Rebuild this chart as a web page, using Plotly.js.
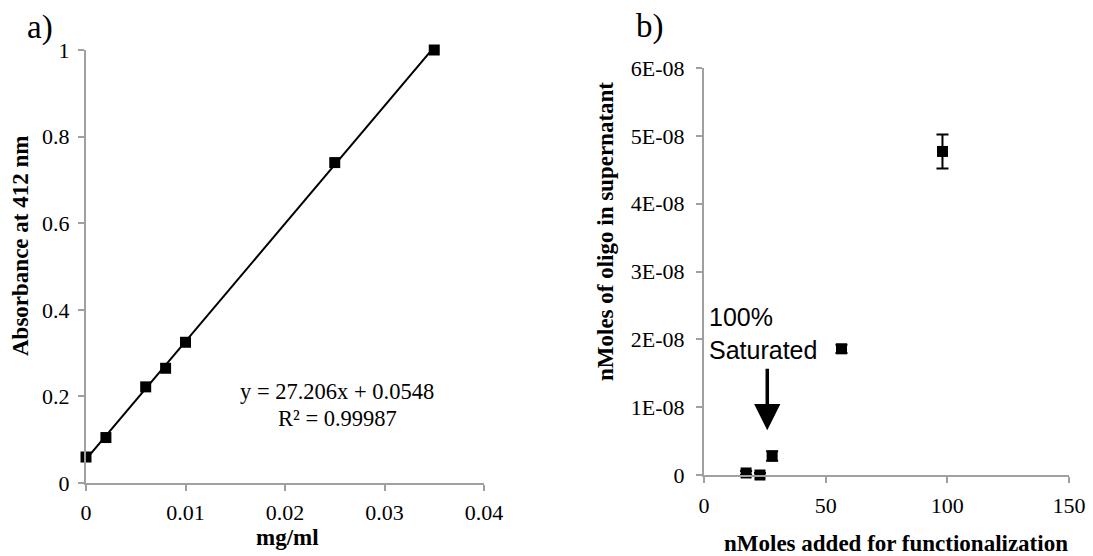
<!DOCTYPE html>
<html>
<head>
<meta charset="utf-8">
<script src="https://cdn.plot.ly/plotly-3.0.1.min.js"></script>
<style>html,body{margin:0;padding:0;background:#fff;}#chart{width:1093px;height:556px;}</style>
</head>
<body>
<div id="chart"></div>
<script>
// Panel a: calibration
const concA = [0, 0.002, 0.006, 0.008, 0.010, 0.025, 0.035];
const absA = [0.060, 0.105, 0.222, 0.265, 0.325, 0.740, 1.0];
const fitSlope = 27.206;
const fitIntercept = 0.0548;
const fitLabel = ["y = 27.206x + 0.0548", "R² = 0.99987"];
const xTicksA = [0, 0.01, 0.02, 0.03, 0.04];
const xTickTextA = ["0", "0.01", "0.02", "0.03", "0.04"];
const yTicksA = [0, 0.2, 0.4, 0.6, 0.8, 1];
const yTickTextA = ["0", "0.2", "0.4", "0.6", "0.8", "1"];

// Panel b: supernatant
const addedB = [17.3, 23.0, 28.0, 56.5, 98.0];
const superB = [0.3e-9, 0, 2.8e-9, 1.86e-8, 4.77e-8];
const errB = [0.3e-9, 0.3e-9, 0.7e-9, 0.6e-9, 2.5e-9];
const xTicksB = [0, 50, 100, 150];
const yTicksB = [0, 1e-8, 2e-8, 3e-8, 4e-8, 5e-8, 6e-8];
const yTickTextB = ["0", "1E-08", "2E-08", "3E-08", "4E-08", "5E-08", "6E-08"];
const arrowX = 26;
const arrowFrom = 1.59e-8;
const arrowTo = 0.66e-8;

const serif = "Liberation Serif";
const sans = "Liberation Sans";
const W = 1093, H = 556;
const px = v => v / W;
const py = v => 1 - v / H;

const fitX = [Math.min(...concA), Math.max(...concA)];
const fitY = fitX.map(x => fitSlope * x + fitIntercept);

const traces = [
  {x: fitX, y: fitY, mode: 'lines', line: {color: '#000', width: 2}, xaxis: 'x', yaxis: 'y', hoverinfo: 'skip', cliponaxis: false},
  {x: concA, y: absA, mode: 'markers', marker: {symbol: 'square', size: 11, color: '#000'}, xaxis: 'x', yaxis: 'y', cliponaxis: false},
  {x: addedB, y: superB, mode: 'markers', marker: {symbol: 'square', size: 11, color: '#000'},
   error_y: {type: 'data', array: errB, visible: true, color: '#000', thickness: 2, width: 6},
   xaxis: 'x2', yaxis: 'y2', cliponaxis: false}
];

function ax(extra) {
  return Object.assign({
    showgrid: false, zeroline: false, showline: true, linecolor: '#a0a0a0', linewidth: 2,
    ticks: 'outside', ticklen: 6, tickwidth: 2, tickcolor: '#a0a0a0',
    tickfont: {family: serif, size: 22, color: '#000'}, fixedrange: true, automargin: false
  }, extra);
}

function ann(text, x, y, size, extra) {
  return Object.assign({text: text, xref: 'paper', yref: 'paper', x: px(x), y: py(y),
    xanchor: 'center', yanchor: 'middle', showarrow: false,
    font: {family: serif, size: size, color: '#000'}}, extra || {});
}

const layout = {
  width: W, height: H, margin: {l: 0, r: 0, t: 0, b: 0, autoexpand: false},
  font: {family: serif, size: 22, color: '#000'},
  paper_bgcolor: '#fff', plot_bgcolor: 'rgba(0,0,0,0)', showlegend: false,
  xaxis: ax({domain: [px(86), px(484)], range: [0, 0.04], tickvals: xTicksA, ticktext: xTickTextA, anchor: 'y', ticklabelstandoff: 3}),
  yaxis: ax({domain: [py(483), py(50)], range: [0, 1], tickvals: yTicksA, ticktext: yTickTextA, anchor: 'x', ticklabelstandoff: 4}),
  xaxis2: ax({domain: [px(704), px(1069)], range: [0, 150], tickvals: xTicksB, ticktext: xTicksB.map(String), anchor: 'y2', ticklabelstandoff: 4}),
  yaxis2: ax({domain: [py(475), py(68)], range: [0, 6e-8], tickvals: yTicksB, ticktext: yTickTextB, anchor: 'x2', ticklabelstandoff: 7}),
  annotations: [
    ann('a)', 40, 27, 33),
    ann('b)', 650, 26, 33),
    ann('<b>Absorbance at 412 nm</b>', 20, 246, 23, {textangle: -90}),
    ann('<b>mg/ml</b>', 287, 537, 23),
    ann('<b>nMoles of oligo in supernatant</b>', 605, 232, 23, {textangle: -90}),
    ann('<b>nMoles added for functionalization</b>', 896, 543, 23),
    ann(fitLabel[0], 337, 392, 22.5),
    ann(fitLabel[1], 337, 418, 22.5),
    ann('100%<br>Saturated', 707, 333, 25, {xanchor: 'left', align: 'left', font: {family: sans, size: 25, color: '#000'}}),
    {text: '', xref: 'x2', yref: 'y2', x: arrowX, y: arrowTo, axref: 'x2', ayref: 'y2', ax: arrowX, ay: arrowFrom,
     showarrow: true, arrowhead: 2, arrowsize: 1.5, arrowwidth: 3.5, arrowcolor: '#000', standoff: 0}
  ]
};

Plotly.newPlot('chart', traces, layout, {displayModeBar: false, staticPlot: true});
</script>
</body>
</html>
